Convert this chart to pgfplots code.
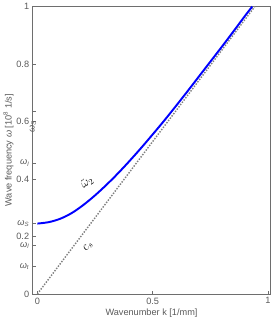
\documentclass[border=0pt]{standalone}
\usepackage{pgfplots}
\pgfplotsset{compat=1.18}
\usepackage{fontspec}
\setmainfont{Liberation Sans}
\definecolor{axgray}{RGB}{110,110,110}
\definecolor{txtgray}{RGB}{90,90,90}
\newcommand{\om}[1]{{\itshape ω\textsubscript{#1}}}
\begin{document}
\begin{tikzpicture}
\begin{axis}[
  scale only axis,
  width=233pt, height=282pt,
  xmin=-0.02, xmax=1.01, ymin=0, ymax=1,
  axis line style={axgray, line width=0.6pt},
  tick style={axgray, line width=0.5pt},
  major tick length=3pt,
  tick align=inside,
  xtick pos=bottom, ytick pos=left,
  xtick={0,0.5,1}, xticklabels={0,0.5,1},
  ytick={0,0.2,0.4,0.6,0.8,1},
  yticklabels={0,0.2,0.4,0.6,0.8,1},
  extra y ticks={0.097,0.168,0.245,0.456,0.634},
  extra y tick labels={{\om{t}},{\om{l}},{\om{S}},{\om{l}},{}},
  tick label style={font=\fontsize{9}{10}\selectfont, text=txtgray},
  /pgf/number format/assume math mode=true,
  xlabel={Wavenumber k [1/mm]},
  ylabel={Wave frequency {\itshape ω} [10\textsuperscript{8} 1/s]},
  label style={font=\fontsize{9}{10}\selectfont, text=txtgray},
  xlabel style={yshift=2pt},
  ylabel style={yshift=-4pt},
  clip=false,
]
\addplot[color=gray, line width=1.4pt, dash pattern=on 1.4pt off 1.4pt] coordinates {(0,0) (0.943,1.0)};
\addplot[color=blue, line width=1.9pt, smooth] coordinates {
(0,0.245) (0.05,0.250) (0.1,0.262) (0.15,0.282) (0.2,0.31) (0.25,0.343)
(0.3,0.38) (0.35,0.42) (0.4,0.463) (0.45,0.508) (0.5,0.555) (0.55,0.603)
(0.6,0.653) (0.65,0.704) (0.7,0.756) (0.75,0.808) (0.8,0.86) (0.85,0.913)
(0.9,0.967) (0.932,1.0)};
\node[rotate=35, font=\fontsize{12}{13}\selectfont] at (axis cs:0.215,0.388) {$\tilde\omega_2$};
\node[rotate=55, font=\fontsize{12}{13}\selectfont] at (axis cs:0.22,0.165) {$c_s$};
\node[rotate=90, font=\fontsize{9}{10}\selectfont, text=txtgray] at (axis cs:-0.02,0.634) [xshift=-15pt] {\om{S}};
\end{axis}
\end{tikzpicture}
\end{document}
